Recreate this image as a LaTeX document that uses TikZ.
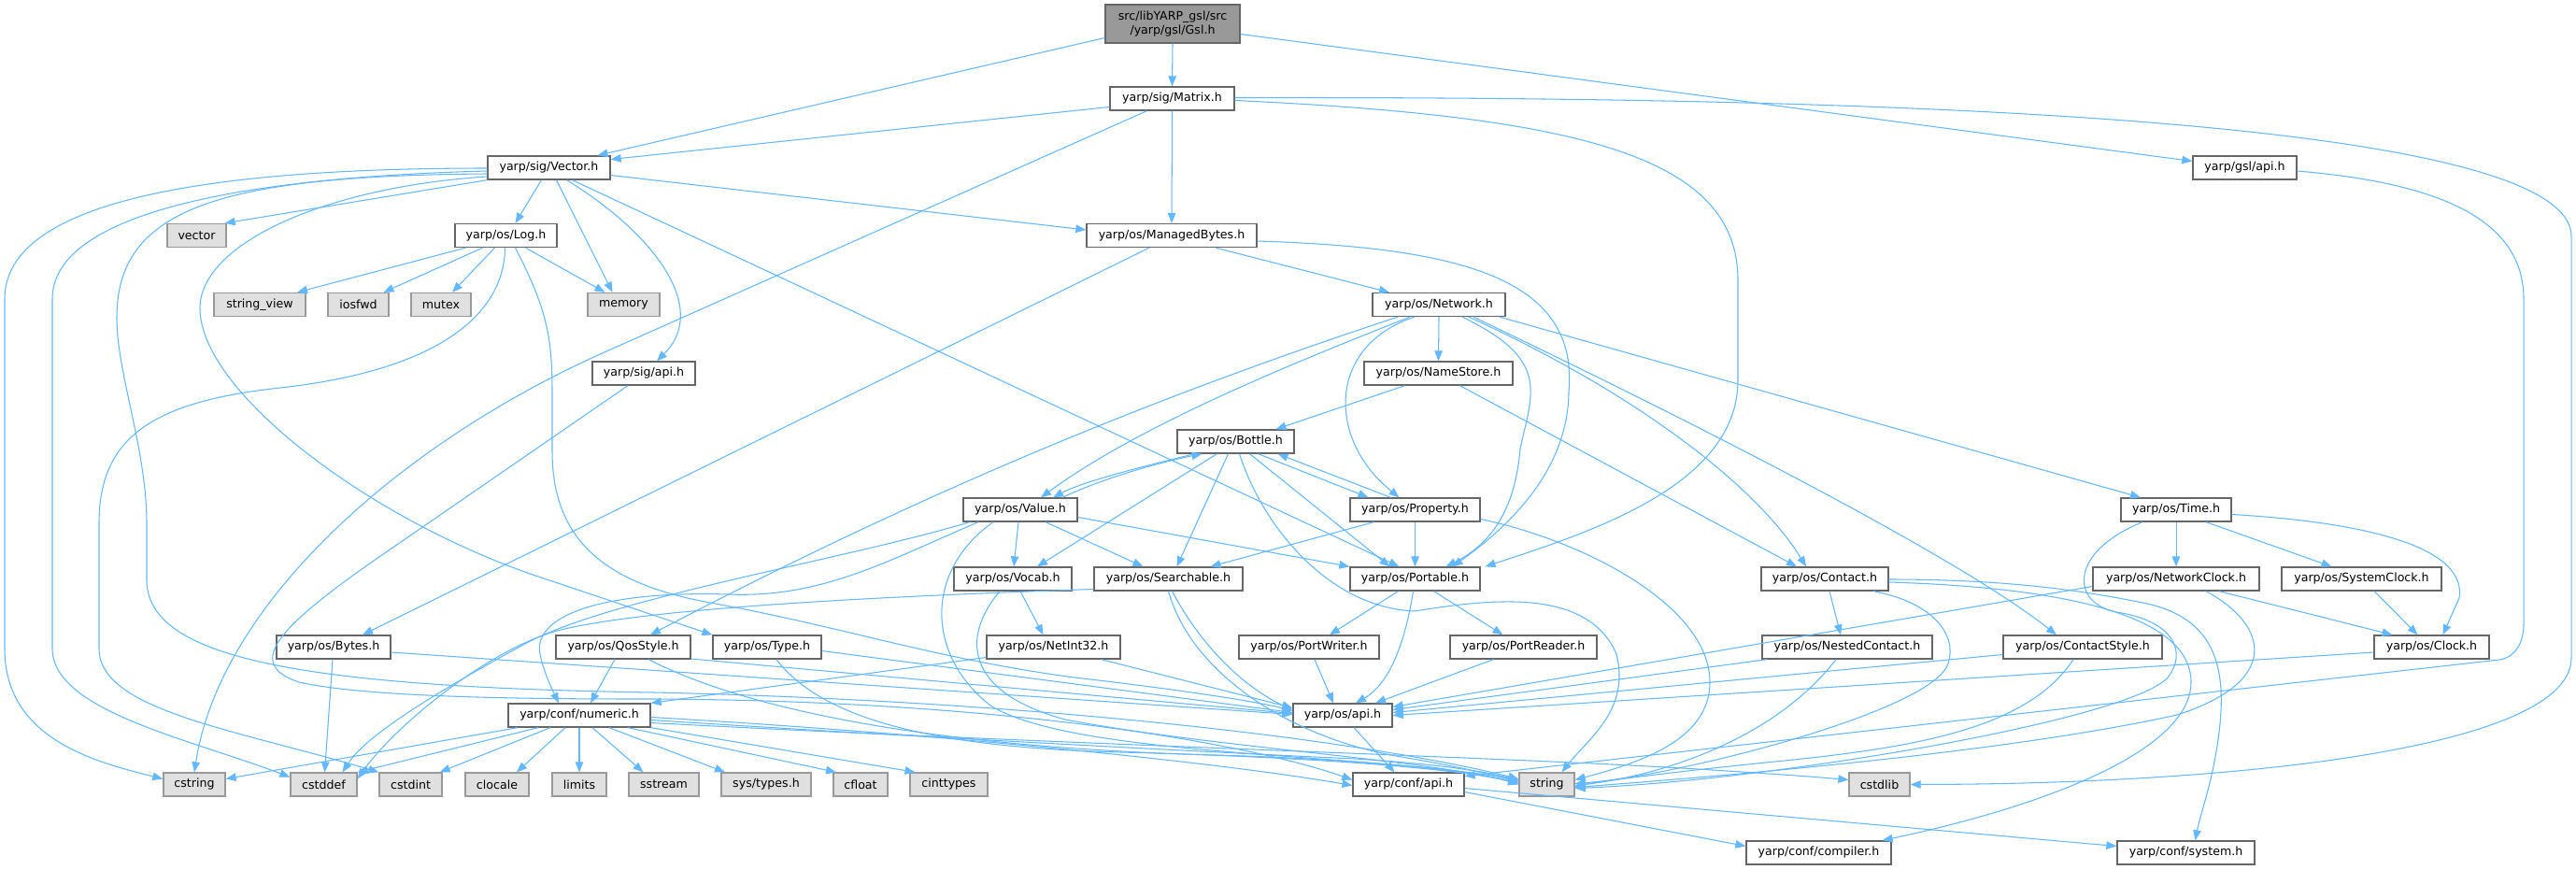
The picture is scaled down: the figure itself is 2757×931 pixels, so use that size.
\documentclass[tikz,border=0pt]{standalone}
\usepackage{fontspec}
\setmainfont{DejaVu Sans}
\usetikzlibrary{arrows.meta}
\definecolor{edgecol}{HTML}{63B8FF}
\definecolor{bordercol}{HTML}{666666}
\definecolor{syscol}{HTML}{999999}
\definecolor{sysfill}{HTML}{E0E0E0}
\definecolor{rootfill}{HTML}{999999}
\begin{document}
\begin{tikzpicture}[x=1pt,y=-1pt,
  nd/.style={draw=bordercol, fill=white, line width=1.3pt, minimum height=25pt, inner sep=0pt, anchor=center, font=\fontsize{12.6}{15}\selectfont},
  sysnd/.style={nd, draw=syscol, fill=sysfill},
  edg/.style={draw=edgecol, line width=1.05pt, -{Triangle[length=11pt,width=8.5pt]}}]
\fill[white] (0,0) rectangle (2757,931);
\useasboundingbox (0,0) rectangle (2757,931);
% nodes
\node[nd, minimum width=144pt, minimum height=41pt, fill=rootfill, align=center] (Gsl) at (1255,25.5) {src/libYARP\_gsl/src\\/yarp/gsl/Gsl.h};
\node[nd, minimum width=133pt] (Matrix) at (1254.5,105.5) {yarp/sig/Matrix.h};
\node[nd, minimum width=131pt] (Vector) at (587.5,179.5) {yarp/sig/Vector.h};
\node[nd, minimum width=111pt] (gslapi) at (2402.5,179.5) {yarp/gsl/api.h};
\node[sysnd, minimum width=63pt] (vector) at (210.5,252) {vector};
\node[nd, minimum width=109pt] (Log) at (541.5,252) {yarp/os/Log.h};
\node[nd, minimum width=182pt] (MB) at (1254,252) {yarp/os/ManagedBytes.h};
\node[sysnd, minimum width=98pt] (stringview) at (278,326) {string\_view};
\node[sysnd, minimum width=65pt] (iosfwd) at (383.5,326) {iosfwd};
\node[sysnd, minimum width=64pt] (mutex) at (472,326) {mutex};
\node[sysnd, minimum width=77pt] (memory) at (667.5,326) {memory};
\node[nd, minimum width=142pt] (Network) at (1540,326) {yarp/os/Network.h};
\node[nd, minimum width=110pt] (sigapi) at (689,399.5) {yarp/sig/api.h};
\node[nd, minimum width=159pt] (NameStore) at (1539.5,399.5) {yarp/os/NameStore.h};
\node[nd, minimum width=125pt] (Bottle) at (1322.5,472.5) {yarp/os/Bottle.h};
\node[nd, minimum width=122pt] (Value) at (1092,545.5) {yarp/os/Value.h};
\node[nd, minimum width=139pt] (Property) at (1514.5,545.5) {yarp/os/Property.h};
\node[nd, minimum width=118pt] (Time) at (2329,545.5) {yarp/os/Time.h};
\node[nd, minimum width=126pt] (Vocab) at (1084,619.5) {yarp/os/Vocab.h};
\node[nd, minimum width=159pt] (Searchable) at (1250.5,619.5) {yarp/os/Searchable.h};
\node[nd, minimum width=139pt] (Portable) at (1514.5,619.5) {yarp/os/Portable.h};
\node[nd, minimum width=136pt] (Contact) at (1953,619.5) {yarp/os/Contact.h};
\node[nd, minimum width=178pt] (NetworkClock) at (2329,619.5) {yarp/os/NetworkClock.h};
\node[nd, minimum width=171pt] (SystemClock) at (2527.5,619.5) {yarp/os/SystemClock.h};
\node[nd, minimum width=122pt] (Bytes) at (357,692.5) {yarp/os/Bytes.h};
\node[nd, minimum width=144pt] (QosStyle) at (667,692.5) {yarp/os/QosStyle.h};
\node[nd, minimum width=116pt] (Type) at (821,692.5) {yarp/os/Type.h};
\node[nd, minimum width=143pt] (NetInt32) at (1127.5,692.5) {yarp/os/NetInt32.h};
\node[nd, minimum width=150pt] (PortWriter) at (1401,692.5) {yarp/os/PortWriter.h};
\node[nd, minimum width=157pt] (PortReader) at (1630.5,692.5) {yarp/os/PortReader.h};
\node[nd, minimum width=182pt] (NestedContact) at (1977,692.5) {yarp/os/NestedContact.h};
\node[nd, minimum width=170pt] (ContactStyle) at (2229,692.5) {yarp/os/ContactStyle.h};
\node[nd, minimum width=123pt] (Clock) at (2602.5,692.5) {yarp/os/Clock.h};
\node[nd, minimum width=152pt] (numeric) at (620,765.5) {yarp/conf/numeric.h};
\node[nd, minimum width=106pt] (osapi) at (1437,765.5) {yarp/os/api.h};
\node[sysnd, minimum width=66pt] (cstring) at (208,839.5) {cstring};
\node[sysnd, minimum width=71pt] (cstddef) at (346.5,839.5) {cstddef};
\node[sysnd, minimum width=67pt] (cstdint) at (439.5,839.5) {cstdint};
\node[sysnd, minimum width=68pt] (clocale) at (532,839.5) {clocale};
\node[sysnd, minimum width=58pt] (limits) at (620,839.5) {limits};
\node[sysnd, minimum width=75pt] (sstream) at (710.5,839.5) {sstream};
\node[sysnd, minimum width=96pt] (systypes) at (820,839.5) {sys/types.h};
\node[sysnd, minimum width=58pt] (cfloat) at (921,839.5) {cfloat};
\node[sysnd, minimum width=83pt] (cinttypes) at (1015.5,839.5) {cinttypes};
\node[nd, minimum width=119pt] (confapi) at (1507.5,839.5) {yarp/conf/api.h};
\node[sysnd, minimum width=59pt] (string) at (1655.5,839.5) {string};
\node[sysnd, minimum width=65pt] (cstdlib) at (2011.5,839.5) {cstdlib};
\node[nd, minimum width=155pt] (compiler) at (1946.5,912.5) {yarp/conf/compiler.h};
\node[nd, minimum width=147pt] (system) at (2339.5,912.5) {yarp/conf/system.h};
% Gsl
\draw[edg] ([yshift=-15pt]Gsl.west) -- ([xshift=52pt]Vector.north);
\draw[edg] (Gsl.south) -- (Matrix.north);
\draw[edg] ([yshift=-11pt]Gsl.east) -- ([yshift=7pt]gslapi.west);
% Matrix
\draw[edg] ([yshift=-9pt]Matrix.west) -- ([yshift=9pt]Vector.east);
\draw[edg] (Matrix.south) -- (MB.north);
\draw[edg] ([yshift=-2pt]Matrix.east) .. controls (1700,125) and (1860,170) .. (1860,300) -- (1860,407) .. controls (1860,520) and (1700,570) .. ([xshift=75pt]Portable.north);
\draw[edg] ([xshift=-27pt]Matrix.south) -- (640,380) .. controls (420,480) and (235,650) .. (cstring.north);
\draw[edg] ([yshift=1pt]Matrix.east) .. controls (1800,104) and (2752,110) .. (2752,253) -- (2752,704) .. controls (2752,800) and (2400,839) .. (cstdlib.east);
% Vector
\draw[edg] (Vector.south west) -- ([xshift=-2pt]vector.north east);
\draw[edg] ([xshift=-8pt]Vector.south) -- ([xshift=10pt]Log.north);
\draw[edg] ([xshift=8pt]Vector.south) -- ([xshift=-12pt]memory.north);
\draw[edg] ([xshift=19pt]Vector.south) .. controls (700,250) and (760,330) .. ([xshift=14pt]sigapi.north);
\draw[edg] ([yshift=-8pt]Vector.east) -- ([yshift=6pt]MB.west);
\draw[edg] ([xshift=25pt]Vector.south) -- ([xshift=-17pt]Portable.north);
\draw[edg] ([yshift=-0.5pt]Vector.west) .. controls (200,180) and (5,220) .. (5,320) -- (5,694) .. controls (5,790) and (100,815) .. ([yshift=6pt]cstring.west);
\draw[edg] ([yshift=-3.5pt]Vector.west) .. controls (250,190) and (56,230) .. (56,320) -- (56,694) .. controls (56,760) and (200,790) .. ([yshift=8pt]cstddef.west);
\draw[edg] ([yshift=-6.5pt]Vector.west) .. controls (230,188) and (125,225) .. (125,340) .. controls (125,400) and (157,480) .. (157,560) -- (157,620) .. controls (157,700) and (300,735) .. (700,741) .. controls (1100,750) and (1450,790) .. ([yshift=6pt]string.west);
\draw[edg] ([yshift=-9.5pt]Vector.west) .. controls (350,200) and (214,260) .. (214,330) .. controls (214,420) and (400,560) .. (585,620) -- (Type.north west);
% Log
\draw[edg] ([xshift=-43pt]Log.south) -- ([xshift=40pt]stringview.north);
\draw[edg] ([xshift=-25pt]Log.south) -- ([xshift=27pt]iosfwd.north);
\draw[edg] ([xshift=-12pt]Log.south) -- ([xshift=12pt]mutex.north);
\draw[edg] ([xshift=21pt]Log.south) -- ([xshift=-20pt]memory.north);
\draw[edg] ([xshift=-1pt]Log.south) .. controls (540,330) and (480,395) .. (300,415) .. controls (160,430) and (106,470) .. (106,560) -- (106,694) .. controls (106,760) and (250,780) .. (cstdint.north west);
\draw[edg] ([xshift=10pt]Log.south) .. controls (585,330) and (591,360) .. (591,420) -- (591,483) .. controls (591,580) and (650,625) .. (760,645) .. controls (900,670) and (1000,705) .. (1150,725) .. controls (1280,740) and (1350,752) .. ([yshift=5pt]osapi.west);
% ManagedBytes
\draw[edg] ([xshift=-24pt]MB.south) -- ([xshift=31pt]Bytes.north);
\draw[edg] ([xshift=47pt]MB.south) -- ([xshift=-53pt]Network.north);
\draw[edg] ([yshift=-6pt]MB.east) .. controls (1570,265) and (1690,300) .. (1679,420) .. controls (1678,500) and (1620,560) .. ([xshift=40pt]Portable.north);
% sig/api
\draw[edg] ([xshift=-17pt]sigapi.south) -- (400,600) .. controls (300,670) and (260,710) .. (320,730) .. controls (400,748) and (600,748) .. (700,748) .. controls (1100,750) and (1350,800) .. ([yshift=5pt]confapi.west);
% Bytes
\draw[edg] ([xshift=-1pt]Bytes.south) -- ([xshift=1pt]cstddef.north);
\draw[edg] ([yshift=-5.5pt]Bytes.east) -- ([yshift=1pt]osapi.west);
% Network
\draw[edg] ([xshift=-44pt]Network.south) .. controls (1250,420) and (1000,520) .. ([xshift=29pt]QosStyle.north);
\draw[edg] ([xshift=-31pt]Network.south) .. controls (1380,390) and (1220,455) .. ([xshift=22pt]Value.north);
\draw[edg] ([xshift=-26pt]Network.south) .. controls (1420,370) and (1420,470) .. ([xshift=-17pt]Property.north);
\draw[edg] (Network.south) -- (NameStore.north);
\draw[edg] ([xshift=25pt]Network.south) .. controls (1660,385) and (1640,420) .. (1627,480) .. controls (1622,540) and (1600,580) .. ([xshift=33pt]Portable.north);
\draw[edg] ([xshift=32pt]Network.south) .. controls (1750,420) and (1880,520) .. ([xshift=-20pt]Contact.north);
\draw[edg] ([xshift=37pt]Network.south) .. controls (1850,470) and (2100,600) .. ([xshift=-28pt]ContactStyle.north);
\draw[edg] ([xshift=65pt]Network.south) -- ([xshift=-38pt]Time.north);
% NameStore
\draw[edg] ([xshift=23pt]NameStore.south) -- ([xshift=-30pt]Contact.north);
\draw[edg] ([xshift=-36pt]NameStore.south) -- ([xshift=43pt]Bottle.north);
% Bottle
\draw[edg] ([xshift=-44pt]Bottle.south) .. controls (1220,500) and (1160,515) .. ([xshift=35pt]Value.north);
\draw[edg] ([xshift=45pt]Value.north) .. controls (1180,512) and (1240,495) .. ([xshift=-36pt]Bottle.south);
\draw[edg] ([xshift=24pt]Bottle.south) -- ([xshift=-50pt]Property.north);
\draw[edg] ([xshift=-26pt]Property.north) -- ([xshift=45pt]Bottle.south);
\draw[edg] ([xshift=-20pt]Bottle.south) -- ([xshift=26pt]Vocab.north);
\draw[edg] ([xshift=-8pt]Bottle.south) -- ([xshift=9pt]Searchable.north);
\draw[edg] ([xshift=15pt]Bottle.south) -- ([xshift=-27pt]Portable.north);
\draw[edg] ([xshift=4pt]Bottle.south) .. controls (1350,560) and (1420,650) .. (1514,654) .. controls (1600,640) and (1700,630) .. (1730,700) .. controls (1745,760) and (1700,790) .. ([xshift=16pt]string.north);
% Value
\draw[edg] ([xshift=-2pt]Value.south) -- ([xshift=1pt]Vocab.north);
\draw[edg] ([xshift=27pt]Value.south) -- ([xshift=-27pt]Searchable.north);
\draw[edg] ([yshift=-8pt]Value.east) -- (Portable.north west);
\draw[edg] ([xshift=-29pt]Value.south) .. controls (990,610) and (990,700) .. (1060,755) .. controls (1150,810) and (1450,805) .. ([yshift=5pt]string.west);
\draw[edg] ([xshift=-45pt]Value.south) .. controls (950,600) and (880,640) .. (780,636) .. controls (640,632) and (570,660) .. (578,700) .. controls (582,720) and (592,740) .. ([xshift=-22pt]numeric.north);
\draw[edg] ([xshift=-54pt]Value.south) .. controls (900,600) and (650,640) .. (560,690) .. controls (450,750) and (390,790) .. ([xshift=20pt]cstddef.north);
% Searchable
\draw[edg] ([yshift=-11pt]Searchable.west) .. controls (950,638) and (700,650) .. (600,674) .. controls (520,695) and (420,780) .. ([yshift=6pt]cstddef.east);
\draw[edg] ([xshift=4pt]Searchable.south) .. controls (1290,700) and (1340,740) .. ([yshift=6pt]osapi.west);
\draw[edg] (Searchable.south) .. controls (1275,720) and (1380,790) .. (1500,810) .. controls (1560,820) and (1600,830) .. ([yshift=3pt]string.west);
% Vocab, NetInt32, Type, QosStyle
\draw[edg] ([xshift=8pt]Vocab.south) -- ([xshift=-11pt]NetInt32.north);
\draw[edg] ([xshift=-14pt]Vocab.south) .. controls (1030,680) and (1030,740) .. (1140,770) .. controls (1300,800) and (1500,810) .. ([yshift=2pt]string.west);
\draw[edg] ([yshift=-11pt]NetInt32.west) -- (numeric.north east);
\draw[edg] ([xshift=51pt]NetInt32.south) -- ([yshift=8pt]osapi.west);
\draw[edg] ([yshift=-4pt]Type.east) -- ([yshift=3pt]osapi.west);
\draw[edg] ([xshift=10pt]Type.south) .. controls (880,770) and (1000,800) .. (1200,805) .. controls (1400,810) and (1560,822) .. ([yshift=1pt]string.west);
\draw[edg] ([xshift=-9pt]QosStyle.south) -- ([xshift=12pt]numeric.north);
\draw[edg] ([yshift=-12.5pt]QosStyle.east) -- ([yshift=2pt]osapi.west);
\draw[edg] ([xshift=27pt]QosStyle.south) .. controls (800,760) and (1000,800) .. (1300,808) .. controls (1450,812) and (1580,825) .. (string.west);
% Portable
\draw[edg] ([xshift=-18pt]Portable.south) -- ([xshift=22pt]PortWriter.north);
\draw[edg] ([xshift=20pt]Portable.south) -- ([xshift=-22pt]PortReader.north);
\draw[edg] ([xshift=-2pt]Portable.south) .. controls (1505,680) and (1490,730) .. ([xshift=14pt]osapi.north);
\draw[edg] ([xshift=6pt]PortWriter.south) -- ([xshift=-10pt]osapi.north);
\draw[edg] ([xshift=-32pt]PortReader.south) -- ([xshift=35pt]osapi.north);
% Property
\draw[edg] ([xshift=-44pt]Property.south) -- ([xshift=45pt]Searchable.north);
\draw[edg] (Property.south) -- (Portable.north);
\draw[edg] ([yshift=-10pt]Property.east) .. controls (1700,580) and (1830,650) .. (1830,730) .. controls (1830,790) and (1760,815) .. ([yshift=5pt]string.east);
% Contact
\draw[edg] ([xshift=5pt]Contact.south) -- ([xshift=-7pt]NestedContact.north);
\draw[edg] ([xshift=52pt]Contact.south) .. controls (2070,645) and (2095,680) .. (2085,710) .. controls (2070,760) and (1800,830) .. ([yshift=1pt]string.east);
\draw[edg] ([yshift=-0.5pt]Contact.east) .. controls (2150,620) and (2230,632) .. (2298,646) .. controls (2360,660) and (2380,700) .. (2377,760) .. controls (2374,820) and (2355,870) .. ([xshift=10pt]system.north);
\draw[edg] ([yshift=-3.5pt]Contact.east) .. controls (2250,630) and (2345,670) .. (2345,730) .. controls (2345,800) and (2200,860) .. ([xshift=-10pt]compiler.north east);
% NestedContact, ContactStyle
\draw[edg] ([xshift=-86pt]NestedContact.south) -- ([yshift=6pt]osapi.east);
\draw[edg] ([xshift=-12pt]NestedContact.south) .. controls (1900,790) and (1780,830) .. ([yshift=-1pt]string.east);
\draw[edg] ([yshift=-8pt]ContactStyle.west) -- ([yshift=3pt]osapi.east);
\draw[edg] ([xshift=-10pt]ContactStyle.south) .. controls (2170,780) and (2050,800) .. (1900,815) .. controls (1800,825) and (1720,835) .. ([yshift=-2pt]string.east);
% Clocks, Time
\draw[edg] ([xshift=46pt]NetworkClock.south) -- ([xshift=-42pt]Clock.north);
\draw[edg] ([yshift=-8pt]NetworkClock.west) -- ([yshift=9pt]osapi.east);
\draw[edg] ([xshift=32pt]NetworkClock.south) .. controls (2430,670) and (2440,730) .. (2330,765) .. controls (2150,805) and (1850,830) .. ([yshift=-3pt]string.east);
\draw[edg] (Time.south) -- (NetworkClock.north);
\draw[edg] ([xshift=32pt]Time.south) -- ([xshift=-32pt]SystemClock.north);
\draw[edg] ([yshift=-5pt]Time.east) .. controls (2550,560) and (2640,590) .. (2632,640) -- ([xshift=12pt]Clock.north);
\draw[edg] ([xshift=-36pt]Time.south) .. controls (2215,590) and (2215,645) .. (2265,655) .. controls (2330,665) and (2340,700) .. (2320,725) .. controls (2280,770) and (1900,835) .. ([yshift=-4pt]string.east);
\draw[edg] ([xshift=13.5pt]SystemClock.south) -- ([xshift=-15pt]Clock.north);
\draw[edg] ([yshift=-5.5pt]Clock.west) -- (osapi.east);
% gsl/api
\draw[edg] ([yshift=-3.5pt]gslapi.east) .. controls (2600,195) and (2701,230) .. (2701,320) -- (2701,668) .. controls (2701,690) and (2690,704) .. (2675,706) -- ([yshift=9pt]confapi.east);
% os/api, conf/api
\draw[edg] ([xshift=12pt]osapi.south) -- ([xshift=-15pt]confapi.north);
\draw[edg] ([yshift=-8pt]confapi.east) -- ([yshift=7pt]compiler.west);
\draw[edg] ([yshift=-4pt]confapi.east) -- ([yshift=7pt]system.west);
% numeric
\draw[edg] ([xshift=-66pt]numeric.south) -- ([yshift=6pt]cstring.east);
\draw[edg] ([xshift=-44pt]numeric.south) -- (cstddef.north east);
\draw[edg] ([xshift=-31pt]numeric.south) -- ([xshift=-3pt]cstdint.north east);
\draw[edg] ([xshift=-15pt]numeric.south) -- ([xshift=21pt]clocale.north);
\draw[edg] (numeric.south) -- (limits.north);
\draw[edg] ([xshift=14pt]numeric.south) -- ([xshift=-22pt]sstream.north);
\draw[edg] ([xshift=32pt]numeric.south) -- ([xshift=-44pt]systypes.north);
\draw[edg] ([xshift=52pt]numeric.south) -- ([xshift=-26pt]cfloat.north);
\draw[edg] (numeric.south east) -- ([xshift=-36pt]cinttypes.north);
\draw[edg] ([yshift=-2pt]numeric.east) .. controls (1000,785) and (1300,815) .. ([yshift=-1pt]confapi.west);
\draw[edg] ([yshift=-5pt]numeric.east) .. controls (1000,790) and (1300,805) .. (1450,812) .. controls (1550,818) and (1600,828) .. ([yshift=4pt]string.west);
\draw[edg] ([yshift=-8pt]numeric.east) .. controls (1100,795) and (1600,810) .. (1800,822) .. controls (1900,828) and (1950,832) .. ([yshift=5pt]cstdlib.west);
\end{tikzpicture}
\end{document}
